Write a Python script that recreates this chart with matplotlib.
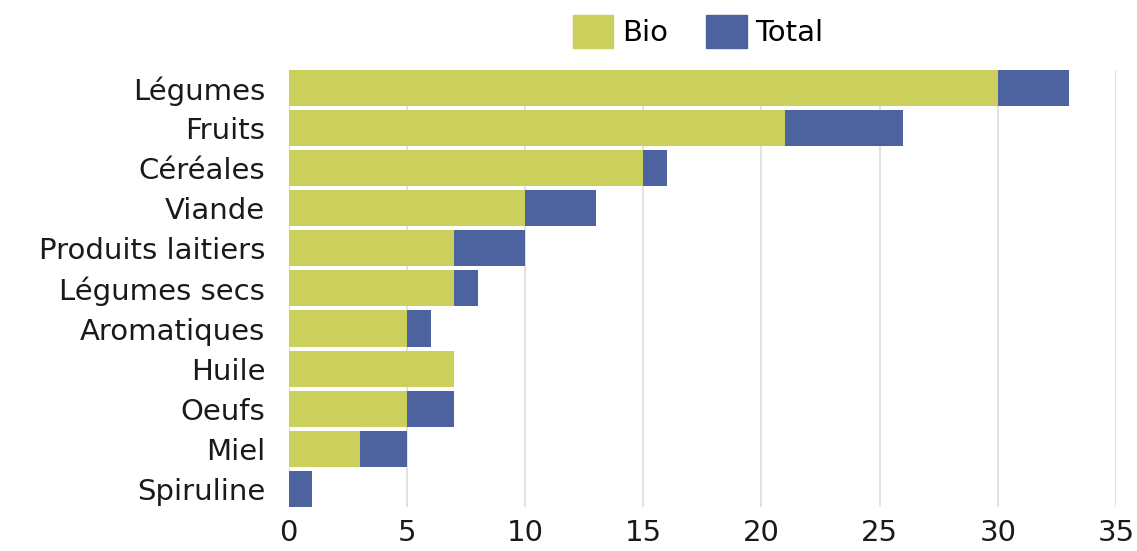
import matplotlib.pyplot as plt
from matplotlib.patches import Patch

plt.rcParams['font.family'] = ['DejaVu Sans']

CATEGORIES = ['Légumes', 'Fruits', 'Céréales', 'Viande', 'Produits laitiers',
              'Légumes secs', 'Aromatiques', 'Huile', 'Oeufs', 'Miel', 'Spiruline']
BIO = [30, 21, 15, 10, 7, 7, 5, 7, 5, 3, 0]
TOTAL = [33, 26, 16, 13, 10, 8, 6, 7, 7, 5, 1]
XTICKS = [0, 5, 10, 15, 20, 25, 30, 35]

GREEN = '#cbcf5b'
BLUE = '#4c63a0'

fig = plt.figure(figsize=(11.37, 5.51), dpi=100)
ax = fig.add_axes([0.254, 0.08, 0.7275, 0.793])

y = list(range(len(CATEGORIES)))
ax.barh(y, TOTAL, height=0.9, color=BLUE, zorder=2)
ax.barh(y, BIO, height=0.9, color=GREEN, zorder=3)

ax.set_yticks(y)
ax.set_yticklabels(CATEGORIES, fontsize=21, color='#1a1a1a')
ax.set_ylim(len(CATEGORIES) - 0.55, -0.45)
ax.set_xlim(0, 35)
ax.set_xticks(XTICKS)
ax.tick_params(axis='x', labelsize=21, colors='#1a1a1a', length=0, pad=9)
ax.tick_params(axis='y', length=0, pad=17)
ax.xaxis.grid(True, color='#dddddd', linewidth=1.2, zorder=0)
ax.set_axisbelow(True)
for s in ax.spines.values():
    s.set_visible(False)

handles = [Patch(color=GREEN, label='Bio'), Patch(color=BLUE, label='Total')]
fig.legend(handles=handles, loc='center', bbox_to_anchor=(0.614, 0.943), ncol=2,
           frameon=False, fontsize=21, handlelength=1.4, handleheight=1.4,
           handletextpad=0.3, columnspacing=1.3)

fig.savefig('out.png')
